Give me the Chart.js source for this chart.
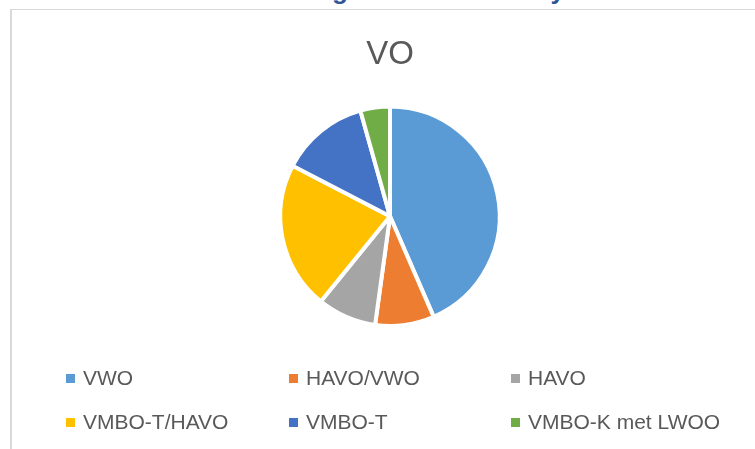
<!DOCTYPE html>
<html>
<head>
<meta charset="utf-8">
<script src="https://cdn.jsdelivr.net/npm/chart.js@4"></script>
<style>
  html, body { margin: 0; padding: 0; background: #fff; overflow: hidden; }
  body { width: 755px; height: 449px; position: relative; font-family: "Liberation Sans", Arial, sans-serif; }
  #frame {
    position: absolute; left: 10px; top: 9px; width: 800px; height: 500px;
    border-left: 2px solid #d9d9d9; border-top: 1px solid #d9d9d9;
  }
  #heading { position: absolute; left: 0; top: 0; width: 755px; height: 5px; overflow: hidden; }
  #heading span {
    position: absolute; top: -23px; font-size: 26px; line-height: 26px; font-weight: bold;
    color: #2f5597; white-space: nowrap;
  }
  #wrap { position: absolute; left: 0; top: 0; width: 755px; height: 449px; }
  .legend-item { position: absolute; display: flex; align-items: center; height: 24px; }
  .legend-item i { display: inline-block; width: 9px; height: 9px; margin-right: 8px; }
  .legend-item span { font-size: 21px; color: #595959; white-space: nowrap; }
</style>
</head>
<body>
<div id="heading"><span style="right:407px">Verdeling</span><span style="right:190px">Survey</span></div>
<div id="frame"></div>
<div id="wrap"><canvas id="pieChart" width="755" height="449"></canvas></div>
<div id="legend"></div>
<script>
  const title = "VO";
  const labels = ["VWO", "HAVO/VWO", "HAVO", "VMBO-T/HAVO", "VMBO-T", "VMBO-K met LWOO"];
  const values = [20, 4, 4, 10, 6, 2];
  const colors = ["#5b9bd5", "#ed7d31", "#a5a5a5", "#ffc000", "#4472c4", "#70ad47"];

  // legend: 3 columns x 2 rows, like the Excel layout
  const legendCols = [66, 289, 511];
  const legendRows = [366, 410];
  const legend = document.getElementById("legend");
  legend.innerHTML = labels
    .map((label, i) => {
      const x = legendCols[i % 3];
      const y = legendRows[Math.floor(i / 3)];
      return `<div class="legend-item" style="left:${x}px;top:${y}px"><i style="background:${colors[i]}"></i><span>${label}</span></div>`;
    })
    .join("");

  new Chart(document.getElementById("pieChart"), {
    type: "pie",
    data: {
      labels: labels,
      datasets: [
        {
          data: values,
          backgroundColor: colors,
          borderColor: "#ffffff",
          borderWidth: 4,
        },
      ],
    },
    options: {
      responsive: false,
      animation: false,
      layout: { padding: { left: 25, right: 0, top: 0, bottom: 121 } },
      plugins: {
        legend: { display: false },
        tooltip: { enabled: false },
        title: {
          display: true,
          text: title,
          color: "#595959",
          font: { family: "'Liberation Sans', Arial, sans-serif", size: 33, weight: "normal" },
          padding: { top: 35, bottom: 30 },
        },
      },
    },
  });
</script>
</body>
</html>
